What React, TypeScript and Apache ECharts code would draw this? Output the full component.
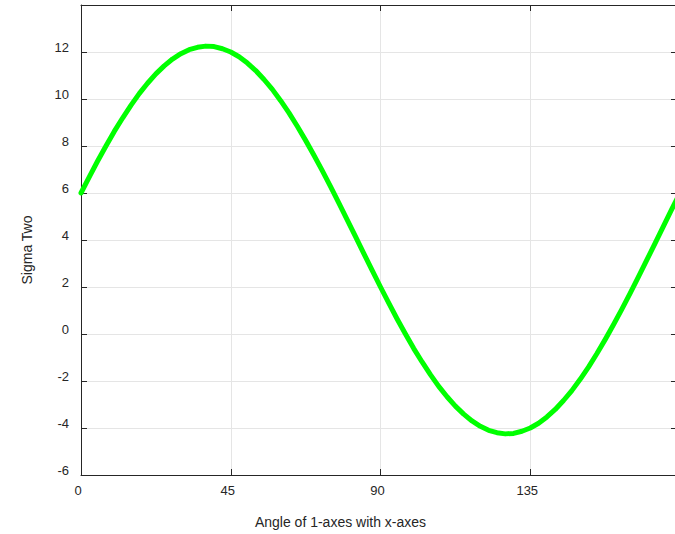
import React, { useEffect, useRef } from "react";
import * as echarts from "echarts";

const angles = [0, 2.5, 5, 7.5, 10, 12.5, 15, 17.5, 20, 22.5, 25, 27.5, 30, 32.5, 35, 37.5, 40, 42.5, 45, 47.5, 50, 52.5, 55, 57.5, 60, 62.5, 65, 67.5, 70, 72.5, 75, 77.5, 80, 82.5, 85, 87.5, 90, 92.5, 95, 97.5, 100, 102.5, 105, 107.5, 110, 112.5, 115, 117.5, 120, 122.5, 125, 127.5, 130, 132.5, 135, 137.5, 140, 142.5, 145, 147.5, 150, 152.5, 155, 157.5, 160, 162.5, 165, 167.5, 170, 172.5, 175, 177.5, 180];
const sigmaTwo = [6.0, 6.69, 7.36, 8.0, 8.62, 9.19, 9.73, 10.23, 10.67, 11.07, 11.41, 11.7, 11.93, 12.1, 12.2, 12.25, 12.23, 12.14, 12.0, 11.8, 11.53, 11.21, 10.83, 10.41, 9.93, 9.41, 8.84, 8.24, 7.61, 6.95, 6.27, 5.57, 4.86, 4.14, 3.42, 2.71, 2.0, 1.31, 0.64, 0.0, -0.62, -1.19, -1.73, -2.23, -2.67, -3.07, -3.41, -3.7, -3.93, -4.1, -4.2, -4.25, -4.23, -4.14, -4.0, -3.8, -3.53, -3.21, -2.83, -2.41, -1.93, -1.41, -0.84, -0.24, 0.39, 1.05, 1.73, 2.43, 3.14, 3.86, 4.58, 5.3, 6.0];
const xTicks = [0, 45, 90, 135, 180];
const yTicks = [-6, -4, -2, 0, 2, 4, 6, 8, 10, 12, 14];

const axisColor = "#262626";
const gridColor = "#e5e5e5";
const font = "Liberation Sans, Arial, Helvetica, sans-serif";

export default function App() {
  const ref = useRef<HTMLDivElement>(null);
  useEffect(() => {
    if (!ref.current) return;
    const chart = echarts.init(ref.current, null, { renderer: "svg" });
    const gridBox = { left: 81, top: 5, width: 599, height: 473 };
    const xBase = {
      type: "value" as const,
      min: xTicks[0],
      max: xTicks[xTicks.length - 1],
      interval: 45,
      axisLine: { show: true, onZero: false, lineStyle: { color: axisColor, width: 1 } },
      axisTick: { show: true, inside: true, length: 6, lineStyle: { color: axisColor } },
    };
    const yBase = {
      type: "value" as const,
      min: yTicks[0],
      max: yTicks[yTicks.length - 1],
      interval: 2,
      axisLine: { show: true, onZero: false, lineStyle: { color: axisColor, width: 1 } },
      axisTick: { show: true, inside: true, length: 6, lineStyle: { color: axisColor } },
    };
    chart.setOption({
      animation: false,
      backgroundColor: "#ffffff",
      grid: gridBox,
      xAxis: [
        {
          ...xBase,
          position: "bottom",
          name: "Angle of 1-axes with x-axes",
          nameLocation: "middle",
          nameGap: 40,
          nameTextStyle: { fontFamily: font, fontSize: 14, color: axisColor, padding: [0, 80, 0, 0] },
          axisLabel: {
            show: true,
            fontFamily: font,
            fontSize: 13,
            color: axisColor,
            margin: 9,
            showMaxLabel: false,
            padding: [0, 6, 0, 0],
          },
          splitLine: { show: true, lineStyle: { color: gridColor, width: 1 } },
        },
        {
          ...xBase,
          position: "top",
          axisLabel: { show: false },
          splitLine: { show: false },
        },
      ],
      yAxis: [
        {
          ...yBase,
          position: "left",
          name: "Sigma Two",
          nameLocation: "middle",
          nameGap: 47,
          nameTextStyle: { fontFamily: font, fontSize: 14, color: axisColor, padding: [0, 20, 0, 0] },
          axisLabel: {
            show: true,
            fontFamily: font,
            fontSize: 13,
            color: axisColor,
            margin: 12,
            showMaxLabel: false,
            verticalAlign: "bottom",
            lineHeight: 10,
          },
          splitLine: { show: true, lineStyle: { color: gridColor, width: 1 } },
        },
        {
          ...yBase,
          position: "right",
          axisTick: { show: true, inside: true, length: 9, lineStyle: { color: axisColor } },
          axisLabel: { show: false },
          splitLine: { show: false },
        },
      ],
      series: [
        {
          type: "line",
          xAxisIndex: 0,
          yAxisIndex: 0,
          data: angles.map((a, i) => [a, sigmaTwo[i]]),
          smooth: false,
          showSymbol: false,
          lineStyle: { color: "#00ff00", width: 5, join: "round", cap: "round" },
          clip: true,
        },
      ],
    });
    return () => chart.dispose();
  }, []);
  return (
    <div style={{ position: "fixed", left: 0, top: 0, width: 675, height: 534, overflow: "hidden", background: "#fff" }}>
      <div ref={ref} style={{ width: 700, height: 534 }} />
    </div>
  );
}
